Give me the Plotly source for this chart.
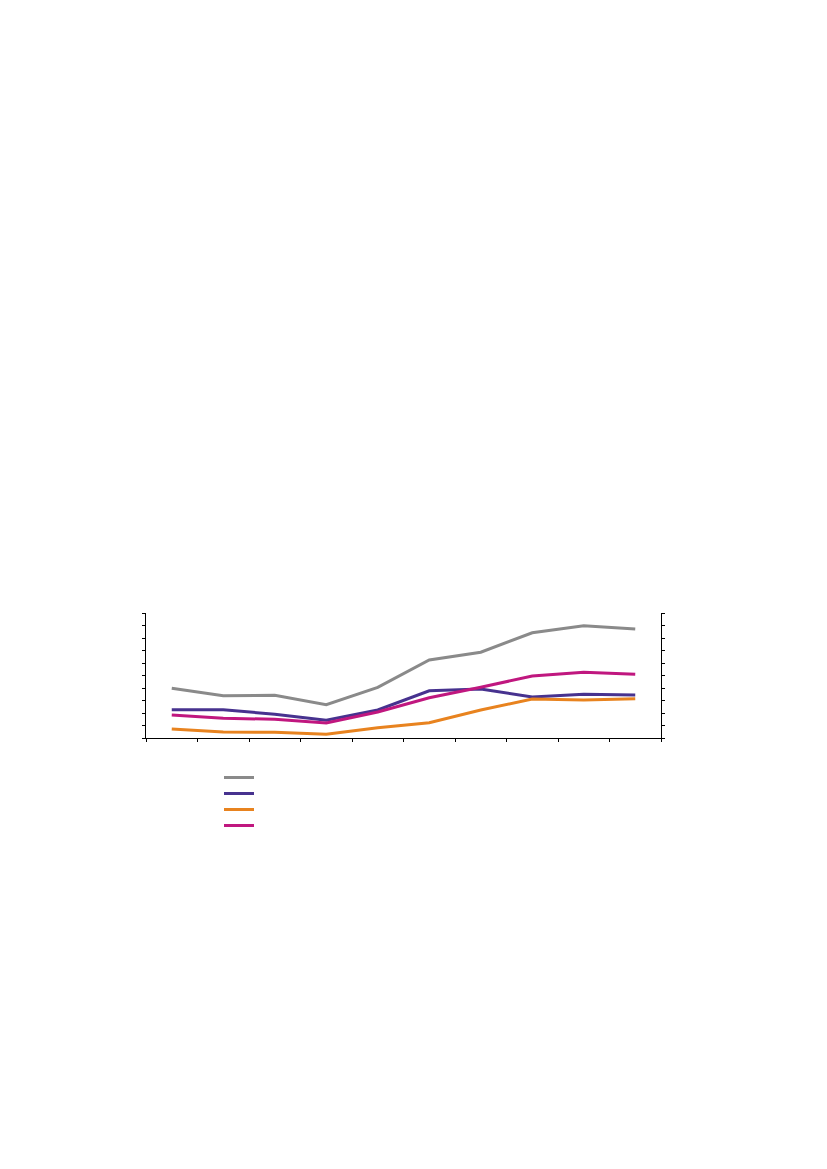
import plotly.graph_objects as go

periods = list(range(1, 11))

grey_vals = [3.98, 3.38, 3.42, 2.66, 4.05, 6.24, 6.86, 8.42, 8.98, 8.72]
purple_vals = [2.26, 2.26, 1.90, 1.42, 2.24, 3.78, 3.92, 3.28, 3.50, 3.44]
orange_vals = [0.72, 0.48, 0.46, 0.30, 0.82, 1.22, 2.24, 3.12, 3.04, 3.14]
magenta_vals = [1.84, 1.58, 1.50, 1.20, 2.08, 3.22, 4.06, 4.96, 5.26, 5.10]

series = [
    (grey_vals, '#8a8a8a'),
    (purple_vals, '#47328f'),
    (orange_vals, '#e8831f'),
    (magenta_vals, '#c0177f'),
]

fig = go.Figure()
legend_layout = {}
for i, (vals, col) in enumerate(series):
    lname = 'legend' if i == 0 else 'legend%d' % (i + 1)
    fig.add_trace(go.Scatter(x=periods, y=vals, mode='lines', name=' ',
                             legend=lname, line=dict(color=col, width=3)))
    # one legend per entry so the rows sit 16px apart like the original
    legend_layout[lname] = dict(x=0.1417, y=-0.2 - 0.128 * i,
                                xanchor='left', yanchor='top',
                                font=dict(size=10, family='Arial'),
                                itemwidth=30, bgcolor='rgba(0,0,0,0)')

fig.update_layout(
    width=827, height=1169,
    margin=dict(l=138, r=174, t=605, b=439),
    plot_bgcolor='white', paper_bgcolor='white',
    showlegend=True,
    xaxis=dict(range=[0.5, 10.5], tick0=0.5, dtick=1, ticks='outside', ticklen=3,
               tickcolor='black', showline=True, linecolor='black', linewidth=1,
               showgrid=False, zeroline=False, showticklabels=False),
    yaxis=dict(range=[0, 10], dtick=1, ticks='outside', ticklen=3,
               tickcolor='black', showline=True, linecolor='black', linewidth=1,
               mirror='ticks', showgrid=False, zeroline=False, showticklabels=False),
    **legend_layout,
)

fig.write_html("out.html")
